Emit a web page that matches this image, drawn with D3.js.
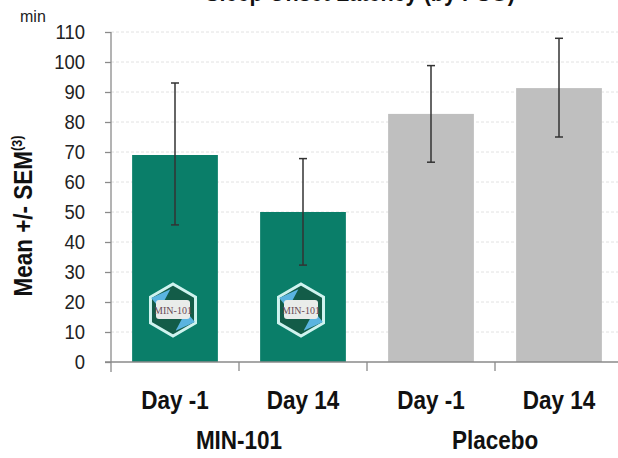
<!DOCTYPE html>
<html><head><meta charset="utf-8">
<script src="https://cdn.jsdelivr.net/npm/d3@7"></script>
<style>html,body{margin:0;padding:0;background:#fff;}svg{display:block;font-family:"Liberation Sans",Arial,sans-serif;}</style>
</head><body>
<script>
const categories = ["Day -1", "Day 14", "Day -1", "Day 14"];
const groups = ["MIN-101", "MIN-101", "Placebo", "Placebo"];
const groupNames = ["MIN-101", "Placebo"];
const means = [69, 50, 82.7, 91.3];
const errLow = [45.7, 32.3, 66.6, 75.0];
const errHigh = [93.0, 67.8, 98.8, 107.9];
const yTicks = [0, 10, 20, 30, 40, 50, 60, 70, 80, 90, 100, 110];
const barColors = ["#0a7e69", "#0a7e69", "#bfbfbf", "#bfbfbf"];
const hasLogo = [true, true, false, false];

const W = 618, H = 458;
const NARROW = 0.9;
const svg = d3.select("body").append("svg").attr("width", W).attr("height", H);

const x0 = 111, step = 128;
const idx = categories.map((d, i) => i);
const x = d3.scaleBand().domain(idx).range([x0, x0 + step * idx.length]).paddingInner(0.33).paddingOuter(0.165);
const y = d3.scaleLinear().domain([0, 110]).range([362, 32]);

// title (mostly cut off at top, as in the reference)
svg.append("text").attr("transform", `translate(360,1) scale(${NARROW},1)`).attr("text-anchor", "middle")
  .attr("font-size", 24).attr("font-weight", "bold").attr("fill", "#111")
  .text("Sleep Onset Latency (by PSG)");

// gridlines
svg.append("g").selectAll("line").data(yTicks.filter(t => t > 0)).join("line")
  .attr("x1", x0).attr("x2", W).attr("y1", d => y(d)).attr("y2", d => y(d))
  .attr("stroke", "#e2e2e2").attr("stroke-width", 1).attr("stroke-dasharray", "3,2");

// bars
svg.append("g").selectAll("rect").data(idx).join("rect")
  .attr("x", i => x(i)).attr("width", x.bandwidth())
  .attr("y", i => y(means[i])).attr("height", i => y(0) - y(means[i]))
  .attr("fill", i => barColors[i]);

// logos
idx.filter(i => hasLogo[i]).forEach(i => {
  const cx = x(i) + x.bandwidth() / 2 - 2, cy = 310, r = 26;
  const g = svg.append("g").attr("transform", `translate(${cx},${cy})`);
  const hex = d3.range(6).map(k => { const a = Math.PI / 3 * k - Math.PI / 2; return [r * Math.cos(a), r * Math.sin(a)]; });
  g.append("polygon").attr("points", hex.map(p => p.join(",")).join(" "))
    .attr("fill", "#135c48").attr("stroke", "#cff3ef").attr("stroke-width", 3);
  g.append("polygon").attr("points", [[-r*0.84,-r*0.46],[-r*0.1,-r*0.8],[-r*0.5,-r*0.05]].map(p=>p.join(",")).join(" "))
    .attr("fill", "#5ab4e0");
  g.append("polygon").attr("points", [[r*0.84,r*0.46],[r*0.1,r*0.8],[r*0.5,r*0.05]].map(p=>p.join(",")).join(" "))
    .attr("fill", "#5ab4e0");
  g.append("rect").attr("x", -17).attr("y", -10).attr("width", 34).attr("height", 19).attr("rx", 3)
    .attr("fill", "#e9ecea");
  g.append("text").attr("x", 0).attr("y", 4).attr("text-anchor", "middle")
    .attr("font-size", 10).attr("font-family", "Liberation Serif, serif").attr("fill", "#6a4a55")
    .text("MIN-101");
});

// error bars
const eb = svg.append("g").attr("stroke", "#333").attr("stroke-width", 1.5);
idx.forEach(i => {
  const cx = x(i) + x.bandwidth() / 2;
  eb.append("line").attr("x1", cx).attr("x2", cx).attr("y1", y(errLow[i])).attr("y2", y(errHigh[i]));
  eb.append("line").attr("x1", cx - 4).attr("x2", cx + 4).attr("y1", y(errLow[i])).attr("y2", y(errLow[i]));
  eb.append("line").attr("x1", cx - 4).attr("x2", cx + 4).attr("y1", y(errHigh[i])).attr("y2", y(errHigh[i]));
});

// y axis
const yAxis = svg.append("g").attr("transform", `translate(${x0},0)`)
  .call(d3.axisLeft(y).tickValues(yTicks).tickSize(6).tickPadding(26));
yAxis.select(".domain").attr("d", `M0,${y(110)}V${y(0) + 10}`).attr("stroke", "#8a8a8a").attr("stroke-width", 1.3);
yAxis.selectAll(".tick line").attr("stroke", "#8a8a8a").attr("stroke-width", 1.3);
yAxis.selectAll(".tick text").attr("font-size", 21).attr("fill", "#222")
  .attr("x", -26 / 0.88).attr("transform", "scale(0.88,1)");

// x baseline and category ticks
svg.append("line").attr("x1", x0 - 6).attr("x2", W).attr("y1", y(0)).attr("y2", y(0))
  .attr("stroke", "#8a8a8a").attr("stroke-width", 1.3);
svg.append("g").selectAll("line").data(idx.slice(1)).join("line")
  .attr("x1", i => x0 + step * i).attr("x2", i => x0 + step * i)
  .attr("y1", y(0)).attr("y2", y(0) + 9)
  .attr("stroke", "#8a8a8a").attr("stroke-width", 1.3);

// category labels
svg.append("g").selectAll("text").data(idx).join("text")
  .attr("transform", i => `translate(${x(i) + x.bandwidth() / 2},409) scale(${NARROW},1)`)
  .attr("text-anchor", "middle")
  .attr("font-size", 25).attr("font-weight", "bold").attr("fill", "#111")
  .text(i => categories[i]);

// group labels
groupNames.forEach(gn => {
  const members = idx.filter(i => groups[i] === gn);
  const cx = d3.mean(members, i => x(i) + x.bandwidth() / 2);
  svg.append("text").attr("transform", `translate(${cx},449) scale(${NARROW},1)`).attr("text-anchor", "middle")
    .attr("font-size", 25).attr("font-weight", "bold").attr("fill", "#111").text(gn);
});

// unit label
svg.append("text").attr("x", 20).attr("y", 22).attr("font-size", 16).attr("fill", "#222").text("min");

// y axis title
const yt = svg.append("text").attr("transform", `translate(32,216) rotate(-90) scale(${NARROW},1)`)
  .attr("text-anchor", "middle").attr("font-size", 25).attr("font-weight", "bold").attr("fill", "#111");
yt.append("tspan").text("Mean +/- SEM");
yt.append("tspan").attr("font-size", 14).attr("dy", -10).text("(3)");
</script>
</body></html>
